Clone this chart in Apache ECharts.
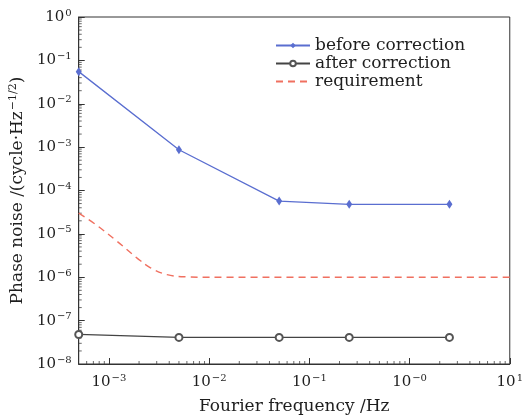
<!DOCTYPE html>
<html>
<head>
<meta charset="utf-8">
<script src="https://cdn.jsdelivr.net/npm/echarts@6/dist/echarts.min.js"></script>
<style>
  html, body { margin: 0; padding: 0; background: #fff; }
  #echart { width: 526px; height: 420px; }
</style>
</head>
<body>
<div id="echart"></div>
<script>
var myChart = echarts.init(document.getElementById("echart"));

// data
var freqs = [5e-4, 5e-3, 5e-2, 0.25, 2.5];
var beforeCorr = [0.055, 8.7e-4, 5.7e-5, 4.8e-5, 4.8e-5];
var afterCorr = [4.8e-8, 4.1e-8, 4.1e-8, 4.1e-8, 4.1e-8];
var reqFreqs = [5e-4, 7.5e-4, 1.2e-3, 1.9e-3, 2.6e-3, 3.8e-3, 6e-3, 1e-2, 10];
var reqValues = [3e-5, 1.6e-5, 6.8e-6, 2.8e-6, 1.65e-6, 1.15e-6, 1.02e-6, 1e-6, 1e-6];

// tick label exponents (x axis shows "-0" as in the original)
var xTickExp = {'-3': '\u22123', '-2': '\u22122', '-1': '\u22121', '0': '\u22120', '1': '1'};
var yTickExp = {'0': '0', '-1': '\u22121', '-2': '\u22122', '-3': '\u22123', '-4': '\u22124',
                '-5': '\u22125', '-6': '\u22126', '-7': '\u22127', '-8': '\u22128'};

var xMin = 5e-4, xMax = 10, yMin = 1e-8, yMax = 1;

function pairs(xs, ys) {
  var out = [];
  for (var i = 0; i < xs.length; i++) out.push([xs[i], ys[i]]);
  return out;
}

// 2..9 x 10^d minor tick positions inside [lo, hi]
function minorTicks(lo, hi) {
  var out = [];
  for (var d = Math.floor(Math.log10(lo)); d <= Math.ceil(Math.log10(hi)); d++) {
    for (var k = 2; k <= 9; k++) {
      var v = k * Math.pow(10, d);
      if (v > lo && v < hi) out.push(v);
    }
  }
  return out;
}

var xMinor = minorTicks(xMin, xMax).map(function (v) { return [v, yMin]; });
var yMinor = minorTicks(yMin, yMax).map(function (v) { return [xMin, v]; });

var serif = 'DejaVu Serif';
var ink = '#1e1e1e';
var richLabel = {
  b: { fontFamily: serif, fontSize: 15, color: ink },
  s: { fontFamily: serif, fontSize: 10, color: ink, padding: [0, 0, 8, 1] }
};

function expLabel(map) {
  return function (v) {
    var e = String(Math.round(Math.log10(v)));
    if (map[e] === undefined) return '';
    return '{b|10}{s|' + map[e] + '}';
  };
}

option = {
  animation: false,
  grid: {
    left: 75, right: 13, top: 17, bottom: 53,
    show: true, borderColor: '#333', borderWidth: 1
  },
  legend: {
    left: 270, top: 32, orient: 'vertical',
    itemWidth: 34, itemHeight: 7, itemGap: 1,
    textStyle: { fontFamily: serif, fontSize: 17, color: ink },
    data: ['before correction', 'after correction',
      { name: 'requirement', itemStyle: { opacity: 0 } }]
  },
  xAxis: {
    type: 'log', logBase: 10, min: xMin, max: xMax,
    name: 'Fourier frequency /Hz', nameLocation: 'middle', nameGap: 34,
    nameTextStyle: { fontFamily: serif, fontSize: 17, color: ink },
    axisLine: { lineStyle: { color: '#333' } },
    axisTick: { inside: true, length: 6, lineStyle: { color: '#333' } },
    splitLine: { show: false },
    axisLabel: { formatter: expLabel(xTickExp), rich: richLabel, margin: 9, showMinLabel: false }
  },
  yAxis: {
    type: 'log', logBase: 10, min: yMin, max: yMax,
    name: 'Phase noise /(cycle\u00b7Hz{s|\u22121/2})', nameLocation: 'middle', nameGap: 43,
    nameTextStyle: {
      fontFamily: serif, fontSize: 17, color: ink,
      rich: { s: { fontFamily: serif, fontSize: 11, color: ink, padding: [0, 0, 8, 1] } }
    },
    axisLine: { lineStyle: { color: '#333' } },
    axisTick: { inside: true, length: 6, lineStyle: { color: '#333' } },
    splitLine: { show: false },
    axisLabel: { formatter: expLabel(yTickExp), rich: richLabel, margin: 7 }
  },
  series: [
    {
      name: 'before correction', type: 'line',
      data: pairs(freqs, beforeCorr),
      symbol: 'diamond', symbolSize: [6, 9],
      itemStyle: { color: '#5a6ed0' },
      lineStyle: { color: '#5a6ed0', width: 1.3 }
    },
    {
      name: 'after correction', type: 'line',
      data: pairs(freqs, afterCorr),
      symbol: 'emptyCircle', symbolSize: 7,
      itemStyle: { color: '#555', borderWidth: 1.2 },
      lineStyle: { color: '#444', width: 1.3 }
    },
    {
      name: 'requirement', type: 'line',
      data: pairs(reqFreqs, reqValues),
      symbol: 'none', smooth: 0.4,
      itemStyle: { color: '#f07060' },
      lineStyle: { color: '#f07060', width: 1.4, type: [7, 5] }
    },
    // minor log ticks drawn as short marks on the axes
    {
      name: 'xMinor', type: 'scatter', data: xMinor, silent: true, clip: false,
      symbol: 'rect', symbolSize: [1, 3], symbolOffset: [0, -1.5],
      itemStyle: { color: '#444' }
    },
    {
      name: 'yMinor', type: 'scatter', data: yMinor, silent: true, clip: false,
      symbol: 'rect', symbolSize: [3, 1], symbolOffset: [1.5, 0],
      itemStyle: { color: '#444' }
    }
  ]
};

myChart.setOption(option);
</script>
</body>
</html>
